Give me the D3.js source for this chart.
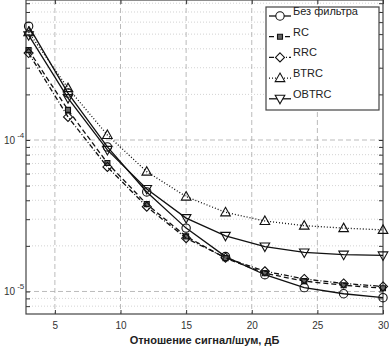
<!DOCTYPE html>
<html>
<head>
<meta charset="utf-8">
<script src="https://cdn.jsdelivr.net/npm/d3@7"></script>
<style>
body { margin: 0; background: #fff; }
svg { font-family: "Liberation Sans", Arial, sans-serif; }
</style>
</head>
<body>
<div id="chart-area"></div>
<script>
// SNR, dB
var snr = [3, 6, 9, 12, 15, 18, 21, 24, 27, 30]

var noFilter = [5.64e-4, 2.04e-4, 9.0e-5, 4.54e-5, 2.62e-5, 1.70e-5, 1.29e-5, 1.06e-5, 9.66e-6, 9.1e-6]
var rc = [3.92e-4, 1.58e-4, 7.05e-5, 3.77e-5, 2.31e-5, 1.66e-5, 1.32e-5, 1.17e-5, 1.10e-5, 1.05e-5]
var rrc = [3.75e-4, 1.42e-4, 6.64e-5, 3.63e-5, 2.25e-5, 1.67e-5, 1.36e-5, 1.21e-5, 1.13e-5, 1.08e-5]
var btrc = [5.15e-4, 2.2e-4, 1.08e-4, 6.18e-5, 4.23e-5, 3.33e-5, 2.92e-5, 2.72e-5, 2.62e-5, 2.55e-5]
var obtrc = [4.92e-4, 1.89e-4, 8.6e-5, 4.75e-5, 3.05e-5, 2.33e-5, 1.98e-5, 1.81e-5, 1.75e-5, 1.73e-5]

var seriesNames = ["Без фильтра", "RC", "RRC", "BTRC", "OBTRC"]
var xTicks = [5, 10, 15, 20, 25, 30]
var yDecades = [1e-5, 1e-4]

var margin = {top: 0, right: 6, bottom: 36, left: 26}
var width = 389 - margin.left - margin.right
var height = 350 - margin.top - margin.bottom

var svg = d3.select("#chart-area").append("svg")
.attr("width", 389)
.attr("height", 350)

var g = svg.append("g")
.attr("transform", "translate(" + margin.left + ", " + margin.top + ")")

var x = d3.scaleLinear().domain([2.8, 30]).range([0, width])
var y = d3.scaleLog().domain([7.1e-6, 8.4e-4]).range([height, 0])

// minor grid
var minor = []
for (var e = -6; e <= -4; e++) {
	for (var m = 2; m <= 9; m++) {
		var v = m * Math.pow(10, e)
		if (v > y.domain()[0] && v < y.domain()[1]) minor.push(v)
	}
}

g.selectAll(".minor").data(minor).enter().append("line")
.attr("x1", 0).attr("x2", width)
.attr("y1", d => y(d)).attr("y2", d => y(d))
.attr("stroke", "#c8c8c8")
.attr("stroke-width", 0.8)
.attr("stroke-dasharray", "1,2")

g.selectAll(".ymajor").data(yDecades).enter().append("line")
.attr("x1", 0).attr("x2", width)
.attr("y1", d => y(d)).attr("y2", d => y(d))
.attr("stroke", "#aaa")
.attr("stroke-width", 0.8)
.attr("stroke-dasharray", "5,3")

g.selectAll(".xmajor").data(xTicks.slice(0, -1)).enter().append("line")
.attr("x1", d => x(d)).attr("x2", d => x(d))
.attr("y1", 0).attr("y2", height)
.attr("stroke", "#aaa")
.attr("stroke-width", 0.8)
.attr("stroke-dasharray", "5,3")

// axes (ticks inside)
var xAxis = d3.axisBottom(x).tickValues(xTicks).tickSize(-4).tickPadding(8).tickFormat(d3.format("d"))
var xAxisGroup = g.append("g").attr("transform", "translate(0, " + height + ")").call(xAxis)
xAxisGroup.select(".domain").remove()
xAxisGroup.selectAll("text").attr("font-size", "10px").attr("fill", "#333")
xAxisGroup.selectAll("line").attr("stroke", "#333")

g.append("g").call(d3.axisTop(x).tickValues(xTicks).tickSize(-4).tickFormat(""))
.call(s => s.select(".domain").remove())
.selectAll("line").attr("stroke", "#333")

var yTicksAll = minor.concat(yDecades)
g.append("g").call(d3.axisLeft(y).tickValues(yTicksAll).tickSize(-4).tickFormat(""))
.call(s => s.select(".domain").remove())
.selectAll("line").attr("stroke", "#333")
g.append("g").attr("transform", "translate(" + width + ",0)")
.call(d3.axisRight(y).tickValues(yTicksAll).tickSize(-4).tickFormat(""))
.call(s => s.select(".domain").remove())
.selectAll("line").attr("stroke", "#333")

// y labels 10^-n
yDecades.forEach(function(d) {
	var t = g.append("text")
	.attr("x", -22).attr("y", y(d) + 4)
	.attr("font-size", "10px").attr("fill", "#333")
	t.append("tspan").text("10")
	t.append("tspan").attr("dx", 2).attr("dy", -6).attr("font-size", "8px").text("-" + Math.round(-Math.log10(d)))
})

g.append("rect")
.attr("width", width).attr("height", height)
.attr("fill", "none").attr("stroke", "#444").attr("stroke-width", 1.2)

// X label
g.append("text")
.attr("x", width / 2)
.attr("y", height + 30)
.attr("font-size", "11px")
.attr("font-weight", "bold")
.attr("text-anchor", "middle")
.attr("fill", "#222")
.text("Отношение сигнал/шум, дБ")

// series
var series = [
	{name: seriesNames[0], vals: noFilter, dash: null, marker: "circle"},
	{name: seriesNames[1], vals: rc, dash: "5,3", marker: "square"},
	{name: seriesNames[2], vals: rrc, dash: "5,2,1,2", marker: "diamond"},
	{name: seriesNames[3], vals: btrc, dash: "1,2", marker: "up"},
	{name: seriesNames[4], vals: obtrc, dash: null, marker: "down"}
]

var markerPath = function(type) {
	var s = 4.5
	if (type == "circle") return d3.symbol(d3.symbolCircle, 55)()
	if (type == "square") return "M-2.5,-2.5H2.5V2.5H-2.5Z"
	if (type == "diamond") return "M0,-" + s + "L" + s + ",0L0," + s + "L-" + s + ",0Z"
	if (type == "up") return "M0,-5L4.8,3.5H-4.8Z"
	return "M0,5L4.8,-3.5H-4.8Z"
}

var line = d3.line().x((d, i) => x(snr[i])).y(d => y(d))

series.forEach(function(s) {
	g.append("path")
	.attr("d", line(s.vals))
	.attr("fill", "none")
	.attr("stroke", "#111")
	.attr("stroke-width", 1.3)
	.attr("stroke-dasharray", s.dash)

	g.selectAll(".m-" + s.marker).data(s.vals).enter().append("path")
	.attr("d", markerPath(s.marker))
	.attr("transform", (d, i) => "translate(" + x(snr[i]) + "," + y(d) + ")")
	.attr("fill", s.marker == "square" ? "#666" : "none")
	.attr("stroke", "#111")
	.attr("stroke-width", 1.1)
})

// legend
var legend = svg.append("g").attr("transform", "translate(266, 7)")
legend.append("rect")
.attr("width", 113).attr("height", 103)
.attr("fill", "#fff").attr("stroke", "#444").attr("stroke-width", 1.2)

series.forEach(function(s, i) {
	var ly = 9 + i * 20.7
	legend.append("line")
	.attr("x1", 3).attr("x2", 25).attr("y1", ly).attr("y2", ly)
	.attr("stroke", "#111").attr("stroke-width", 1.3)
	.attr("stroke-dasharray", s.dash)
	legend.append("path")
	.attr("d", markerPath(s.marker))
	.attr("transform", "translate(14," + ly + ")")
	.attr("fill", s.marker == "square" ? "#666" : "#fff")
	.attr("stroke", "#111").attr("stroke-width", 1.1)
	legend.append("text")
	.attr("x", 27).attr("y", ly - 1)
	.attr("font-size", "11px").attr("fill", "#222")
	.text(s.name)
})
</script>
</body>
</html>
